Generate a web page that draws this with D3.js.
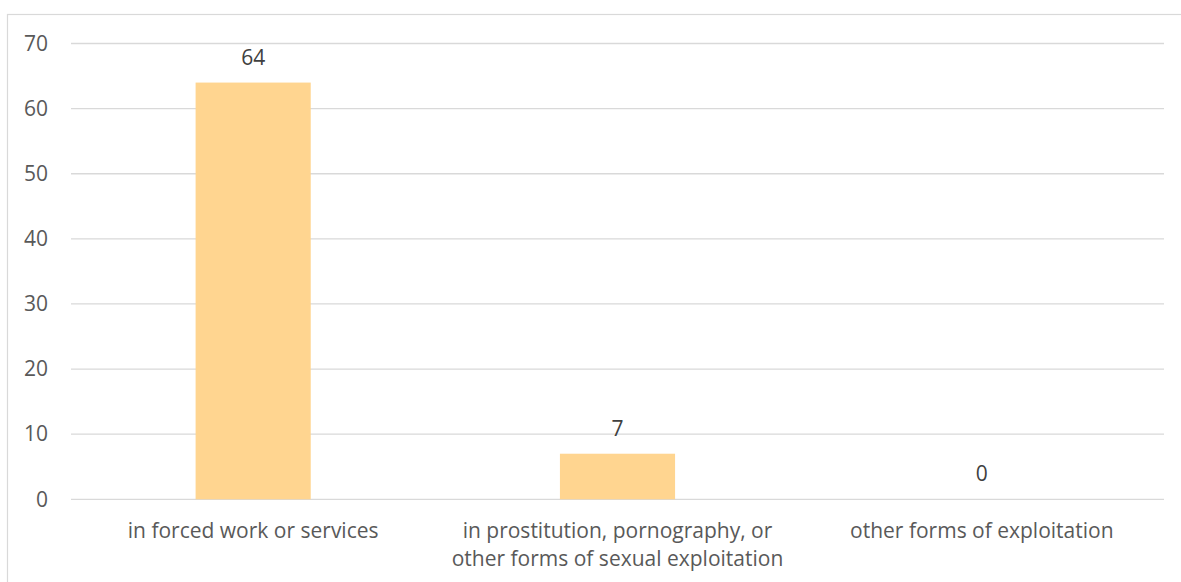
<!DOCTYPE html>
<html><head><meta charset="utf-8">
<script src="https://cdn.jsdelivr.net/npm/d3@7"></script>
<style>body{margin:0;background:#fff;} svg{display:block;}</style>
</head><body>
<script>
const categories = [["in forced work or services"], ["in prostitution, pornography, or", "other forms of sexual exploitation"], ["other forms of exploitation"]];
const values = [64, 7, 0];
const yTicks = [0, 10, 20, 30, 40, 50, 60, 70];

(function () {
const W = 1181, H = 582;
const svg = d3.select("body").append("svg").attr("width", W).attr("height", H);
svg.append("rect").attr("x", 7.5).attr("y", 14.5).attr("width", 1200).attr("height", 600)
  .attr("fill", "#fff").attr("stroke", "#d9d9d9").attr("stroke-width", 1.2);

const font = "'Open Sans', sans-serif";
const fs = 21;
const pL = 71, pR = 1164, pT = 43.5, pB = 499.3;
const x = d3.scaleBand().domain(d3.range(categories.length)).range([pL, pR]).paddingInner(0.684).paddingOuter(0.342);
const y = d3.scaleLinear().domain([0, 70]).range([pB, pT]);

svg.append("g").selectAll("line").data(yTicks).join("line")
  .attr("x1", pL).attr("x2", pR)
  .attr("y1", d => y(d)).attr("y2", d => y(d))
  .attr("stroke", "#d9d9d9").attr("stroke-width", 1.3);

const yAxis = svg.append("g").attr("transform", `translate(${pL},0)`)
  .call(d3.axisLeft(y).tickValues(yTicks).tickSize(0).tickPadding(0));
yAxis.select(".domain").remove();
yAxis.selectAll("text").attr("x", -23).attr("font-family", font).attr("font-size", fs).attr("fill", "#595959");

svg.append("g").selectAll("rect").data(values).join("rect")
  .attr("x", (d, i) => x(i)).attr("width", x.bandwidth())
  .attr("y", d => y(d)).attr("height", d => y(0) - y(d))
  .attr("fill", "#FFD590");

svg.append("g").selectAll("text").data(values).join("text")
  .attr("x", (d, i) => x(i) + x.bandwidth() / 2)
  .attr("y", d => y(d) - 18)
  .attr("text-anchor", "middle").attr("font-family", font).attr("font-size", fs).attr("fill", "#404040")
  .text(d => d);

const xl = svg.append("g").selectAll("text").data(categories).join("text")
  .attr("x", (d, i) => x(i) + x.bandwidth() / 2)
  .attr("y", 538)
  .attr("text-anchor", "middle").attr("font-family", font).attr("font-size", fs).attr("fill", "#595959");
xl.each(function(lines, i) {
  d3.select(this).selectAll("tspan").data(lines).join("tspan")
    .attr("x", x(i) + x.bandwidth() / 2).attr("dy", (l, j) => j === 0 ? 0 : 28).text(l => l);
});
})();
</script>
</body></html>
